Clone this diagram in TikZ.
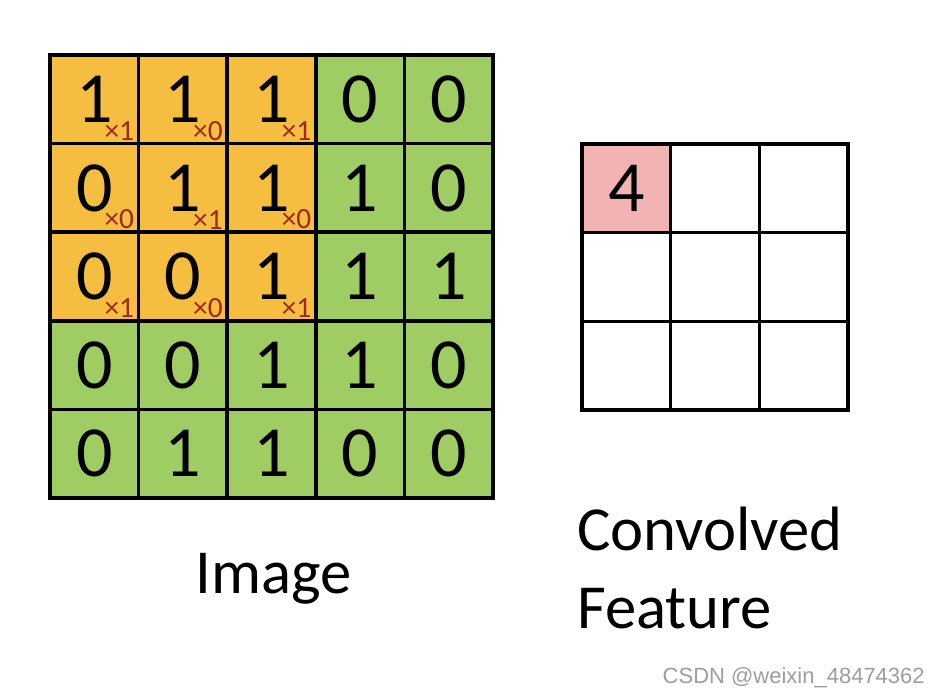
\documentclass[tikz,border=0pt]{standalone}
\usepackage{fontspec}
\setmainfont{Carlito}
\newfontfamily\wmfont{Liberation Sans}
\definecolor{kernorange}{HTML}{F5BE41}
\definecolor{imggreen}{HTML}{A0CC64}
\definecolor{featpink}{HTML}{F2B3B3}
\definecolor{weightred}{HTML}{A0281E}
\tikzset{
	cell/.style={draw,line width=2.6pt,minimum size=66.45pt,inner sep=0pt,font=\fontsize{54}{54}\selectfont},
	kcell/.style={cell,fill=kernorange},
	gcell/.style={cell,fill=imggreen},
	fcell/.style={cell,fill=white},
	weight/.style={anchor=south east,inner sep=0pt,xshift=-4.5pt,yshift=3.5pt,text=weightred,font=\fontsize{22}{22}\selectfont},
	caption/.style={inner sep=0pt,font=\fontsize{47}{58.5}\selectfont}
}
\begin{document}
\begin{tikzpicture}[x=0.75pt,y=-0.75pt]
		\useasboundingbox[fill=white] (0,0) rectangle (934,694);
		
		% image, row 1
		\node[kcell] (i11) at (94.3,99.3) {1};
		\node[kcell] (i12) at (182.9,99.3) {1};
		\node[kcell] (i13) at (271.5,99.3) {1};
		\node[gcell] (i14) at (360.1,99.3) {0};
		\node[gcell] (i15) at (448.7,99.3) {0};
		% image, row 2
		\node[kcell] (i21) at (94.3,187.9) {0};
		\node[kcell] (i22) at (182.9,187.9) {1};
		\node[kcell] (i23) at (271.5,187.9) {1};
		\node[gcell] (i24) at (360.1,187.9) {1};
		\node[gcell] (i25) at (448.7,187.9) {0};
		% image, row 3
		\node[kcell] (i31) at (94.3,276.5) {0};
		\node[kcell] (i32) at (182.9,276.5) {0};
		\node[kcell] (i33) at (271.5,276.5) {1};
		\node[gcell] (i34) at (360.1,276.5) {1};
		\node[gcell] (i35) at (448.7,276.5) {1};
		% image, row 4
		\node[gcell] (i41) at (94.3,365.1) {0};
		\node[gcell] (i42) at (182.9,365.1) {0};
		\node[gcell] (i43) at (271.5,365.1) {1};
		\node[gcell] (i44) at (360.1,365.1) {1};
		\node[gcell] (i45) at (448.7,365.1) {0};
		% image, row 5
		\node[gcell] (i51) at (94.3,453.7) {0};
		\node[gcell] (i52) at (182.9,453.7) {1};
		\node[gcell] (i53) at (271.5,453.7) {1};
		\node[gcell] (i54) at (360.1,453.7) {0};
		\node[gcell] (i55) at (448.7,453.7) {0};
		
		% kernel weights
		\node[weight] (w11) at (i11.south east) {×1};
		\node[weight] (w12) at (i12.south east) {×0};
		\node[weight] (w13) at (i13.south east) {×1};
		\node[weight] (w21) at (i21.south east) {×0};
		\node[weight] (w22) at (i22.south east) {×1};
		\node[weight] (w23) at (i23.south east) {×0};
		\node[weight] (w31) at (i31.south east) {×1};
		\node[weight] (w32) at (i32.south east) {×0};
		\node[weight] (w33) at (i33.south east) {×1};
		
		% convolved feature
		\node[fcell,fill=featpink] (f11) at (626.3,188.3) {4};
		\node[fcell] (f12) at (715,188.3) {};
		\node[fcell] (f13) at (803.7,188.3) {};
		\node[fcell] (f21) at (626.3,277) {};
		\node[fcell] (f22) at (715,277) {};
		\node[fcell] (f23) at (803.7,277) {};
		\node[fcell] (f31) at (626.3,365.7) {};
		\node[fcell] (f32) at (715,365.7) {};
		\node[fcell] (f33) at (803.7,365.7) {};
		
		\node[caption,anchor=base west] (imglabel) at (195,593) {Image};
		\node[caption,anchor=base west,align=left] (featlabel) at (577,628) {Convolved\\Feature};
		
		\node[anchor=base east,inner sep=0pt,text=black!38,font=\wmfont\fontsize{16.5}{16.5}\selectfont] (mark) at (925,683) {CSDN @weixin\_48474362};
		
		\end{tikzpicture}
\end{document}
